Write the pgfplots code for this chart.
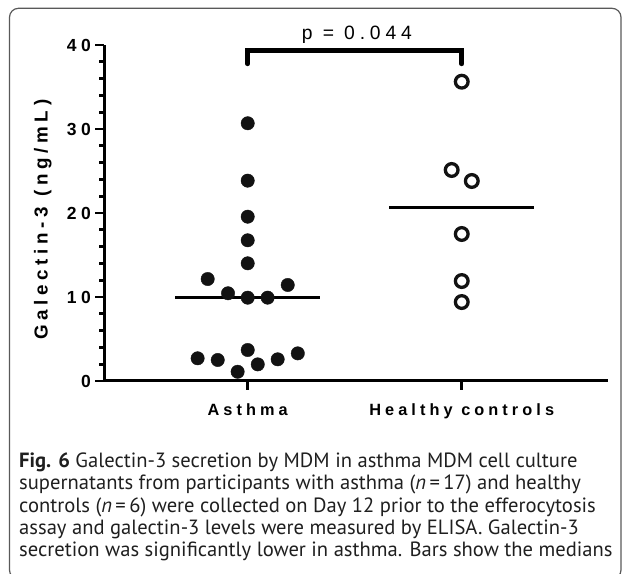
\documentclass[border=0pt]{standalone}
\usepackage{fontspec}
\usepackage{pgfplots}
\pgfplotsset{compat=1.18}
\setmainfont{PT Sans}
\newfontfamily\chartfont[LetterSpace=25]{Liberation Sans}

\begin{document}
\begin{tikzpicture}
\begin{axis}[
  anchor=south west,
  scale only axis, width=503.4bp, height=336bp,
  xmin=0.33, xmax=2.682, ymin=0, ymax=40,
  axis x line*=bottom, axis y line*=left,
  axis line style={line width=3bp, black},
  xtick={1,2}, xticklabels={Asthma,Healthy controls},
  ytick={0,10,20,30,40}, yticklabels={0,10,20,30,40},
  minor ytick={2,4,6,8,12,14,16,18,22,24,26,28,32,34,36,38},
  tick align=outside,
  major tick length=9bp, minor tick length=5bp,
  every tick/.style={line width=2.8bp, black},
  xticklabel style={font=\chartfont\bfseries\fontsize{16.3bp}{18bp}\selectfont, yshift=-10bp},
  yticklabel style={font=\chartfont\bfseries\fontsize{17.5bp}{19bp}\selectfont, xshift=-1bp},
  ylabel={Galectin-3 (ng/mL)},
  every axis y label/.style={at={(axis description cs:-0.122,0.48)}, rotate=90, anchor=center,
    font=\chartfont\bfseries\fontsize{18.8bp}{20bp}\selectfont},
  clip=false,
]
% significance bracket
\addplot[line width=4.5bp, line join=miter, line cap=round, black] coordinates {(1,37.75) (1,39.35) (2,39.35) (2,37.75)};
\node[anchor=base, font=\chartfont\fontsize{19.3bp}{21bp}\selectfont] at (axis cs:1.51,40.6) {p = 0.044};

% medians
\addplot[line width=3bp, black] coordinates {(0.662,9.92) (1.338,9.92)};
\addplot[line width=3bp, black] coordinates {(1.662,20.66) (2.338,20.66)};

% asthma
\addplot[only marks, mark=*, mark size=6.7bp, black!93] coordinates {
  (1,30.68) (1,23.85) (1,19.56) (1,16.75) (1,14.01)
  (0.813,12.14) (0.908,10.44) (1,9.92) (1.093,9.92) (1.187,11.43)
  (0.766,2.70) (0.860,2.50) (0.953,1.10) (1,3.69) (1.047,1.98) (1.140,2.58) (1.234,3.29)
};
% healthy controls
\addplot[only marks, mark=o, mark size=6.35bp, mark options={line width=3.3bp}, black!93] coordinates {
  (2,35.63) (1.953,25.12) (2.047,23.81) (2,17.5) (2,11.9) (2,9.4)
};
\end{axis}

% frame and caption, in page pixels from the bottom-left corner
\begin{scope}[x=1bp, y=1bp, shift={(-104.3bp,-193bp)}]
\draw[black!65, line width=1.2bp, rounded corners=9bp] (9.5,565.7) rectangle (621,-5);
\begin{scope}[every node/.style={anchor=base west, inner sep=0pt, text=black!88,
    font=\fontsize{20.6bp}{22bp}\selectfont}]
\node at (19,106) {\textbf{Fig. 6} Galectin-3 secretion by MDM in asthma MDM cell culture};
\node at (19,84) {supernatants from participants with asthma (\textit{n}\,=\,17) and healthy};
\node at (19,62) {controls (\textit{n}\,=\,6) were collected on Day 12 prior to the efferocytosis};
\node at (19,40) {assay and galectin-3 levels were measured by ELISA. Galectin-3};
\node at (19,18) {secretion was significantly lower in asthma. Bars show the medians};
\end{scope}
\pgfresetboundingbox
\useasboundingbox (0,0) rectangle (625,574);
\end{scope}
\end{tikzpicture}
\end{document}
